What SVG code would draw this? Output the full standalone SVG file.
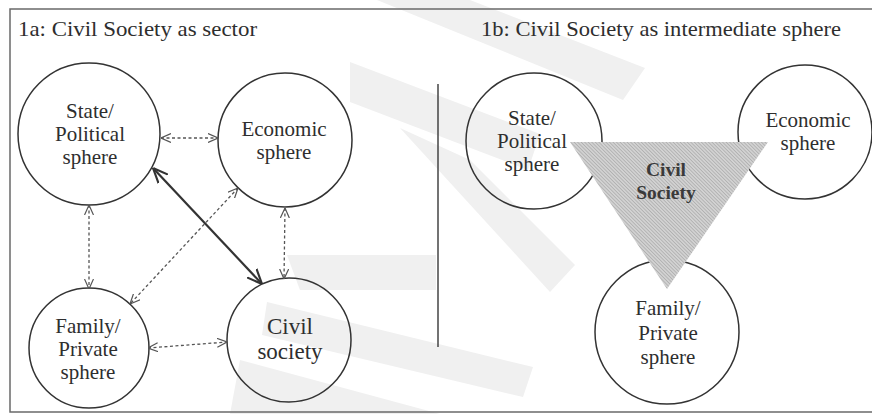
<svg xmlns="http://www.w3.org/2000/svg" width="872" height="414" viewBox="0 0 872 414">
  <style>
    .wm { fill: #f0f0f0; stroke: none; }
    .frame { fill: none; stroke: #6a6a6a; stroke-width: 1.5; }
    .node { fill: none; stroke: #333333; stroke-width: 1.5; }
    .nt { font-family: "Liberation Serif", "Times New Roman", serif; font-size: 21px; fill: #2e2e2e; text-anchor: middle; }
    .nt2 { font-family: "Liberation Serif", "Times New Roman", serif; font-size: 23px; fill: #2e2e2e; text-anchor: middle; }
    .title { font-family: "Liberation Serif", "Times New Roman", serif; font-size: 22px; fill: #2e2e2e; }
    .cs { font-family: "Liberation Serif", "Times New Roman", serif; font-size: 19.5px; font-weight: bold; fill: #3a3a3a; text-anchor: middle; }
    .dot { fill: none; stroke: #555555; stroke-width: 1.3; stroke-dasharray: 3 2.5; marker-start: url(#ov); marker-end: url(#ov); }
    .solid { fill: none; stroke: #333333; stroke-width: 2.2; marker-start: url(#ovb); marker-end: url(#ovb); }
  </style>
  <defs>
    <marker id="ov" viewBox="0 0 10 10" refX="10" refY="5" markerWidth="10" markerHeight="10" markerUnits="userSpaceOnUse" orient="auto-start-reverse">
      <path d="M0,0.5 L10,5 L0,9.5" fill="none" stroke="#555555" stroke-width="1.2"/>
    </marker>
    <marker id="ovb" viewBox="0 0 14 14" refX="14" refY="7" markerWidth="15" markerHeight="15" markerUnits="userSpaceOnUse" orient="auto-start-reverse">
      <path d="M0,1 L14,7 L0,13" fill="none" stroke="#333333" stroke-width="2"/>
    </marker>
    <pattern id="hatch" width="2.5" height="2.5" patternUnits="userSpaceOnUse" patternTransform="rotate(-45)">
      <rect width="2.5" height="2.5" fill="#d2d2d2"/>
      <line x1="0" y1="0" x2="0" y2="2.5" stroke="#9a9a9a" stroke-width="1"/>
    </pattern>
  </defs>

  <g id="watermark">
    <polygon class="wm" points="377,0 470,0 645,68 623,100"/>
    <polygon class="wm" points="350,62 540,134 528,170 350,102"/>
    <polygon class="wm" points="400,128 470,160 575,265 550,292"/>
    <polygon class="wm" points="287,255 436,255 436,290 300,290"/>
    <polygon class="wm" points="267,302 533,367 523,397 262,335"/>
    <polygon class="wm" points="240,360 440,414 230,414"/>
  </g>

  <g id="frame">
    <path class="frame" d="M872,9 H10 V412 H872"/>
  </g>

  <g id="titles">
    <text class="title" x="18" y="36" textLength="239" lengthAdjust="spacingAndGlyphs">1a: Civil Society as sector</text>
    <text class="title" x="481" y="36" textLength="360" lengthAdjust="spacingAndGlyphs">1b: Civil Society as intermediate sphere</text>
  </g>

  <g id="divider">
    <line x1="438" y1="84" x2="438" y2="347" stroke="#444444" stroke-width="1.5"/>
  </g>

  <!-- Panel 1a -->
  <g id="a-state">
    <circle class="node" cx="89" cy="134" r="71"/>
    <text class="nt" x="90" y="118">State/</text>
    <text class="nt" x="90" y="141">Political</text>
    <text class="nt" x="90" y="164">sphere</text>
  </g>
  <g id="a-economic">
    <circle class="node" cx="285" cy="140" r="67"/>
    <text class="nt" x="284" y="136">Economic</text>
    <text class="nt" x="284" y="159">sphere</text>
  </g>
  <g id="a-family">
    <circle class="node" cx="89" cy="348" r="60"/>
    <text class="nt" x="88" y="333">Family/</text>
    <text class="nt" x="88" y="356">Private</text>
    <text class="nt" x="88" y="379">sphere</text>
  </g>
  <g id="a-civil">
    <circle class="node" cx="289" cy="340" r="62"/>
    <text class="nt2" x="290" y="334">Civil</text>
    <text class="nt2" x="290" y="359">society</text>
  </g>

  <g id="connectors">
    <line class="dot" x1="161" y1="138" x2="218" y2="138"/>
    <line class="dot" x1="89" y1="205" x2="89" y2="289"/>
    <line class="dot" x1="285" y1="208" x2="284" y2="279"/>
    <line class="dot" x1="148" y1="348" x2="227" y2="342"/>
    <line class="dot" x1="238" y1="188" x2="130" y2="304"/>
    <line class="solid" x1="153" y1="168" x2="262" y2="284"/>
  </g>

  <!-- Panel 1b -->
  <g id="b-state">
    <circle class="node" cx="534" cy="141" r="68"/>
    <text class="nt" x="532" y="125">State/</text>
    <text class="nt" x="532" y="148">Political</text>
    <text class="nt" x="532" y="171">sphere</text>
  </g>
  <g id="b-economic">
    <circle class="node" cx="805" cy="132" r="67"/>
    <text class="nt" x="808" y="127">Economic</text>
    <text class="nt" x="808" y="150">sphere</text>
  </g>
  <g id="b-family">
    <circle class="node" cx="667" cy="332" r="72"/>
    <text class="nt" x="668" y="315">Family/</text>
    <text class="nt" x="668" y="340">Private</text>
    <text class="nt" x="668" y="364">sphere</text>
  </g>
  <g id="b-civil">
    <polygon points="570,142 768,142 667,289" fill="url(#hatch)"/>
    <text class="cs" x="666" y="176">Civil</text>
    <text class="cs" x="666" y="199">Society</text>
  </g>
</svg>
